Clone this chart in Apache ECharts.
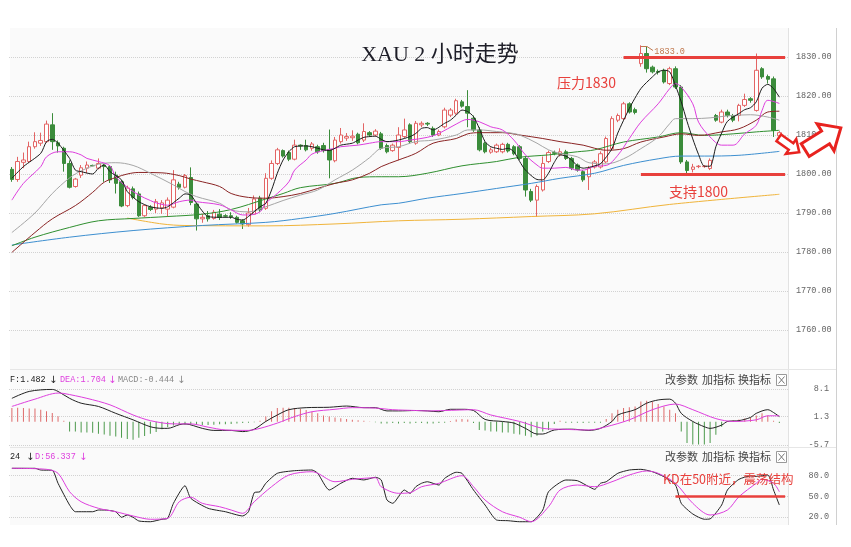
<!DOCTYPE html>
<html><head><meta charset="utf-8">
<script src="https://cdn.jsdelivr.net/npm/echarts@6.0.0/dist/echarts.min.js"></script>
<style>html,body{margin:0;padding:0;background:#fff}#c{width:851px;height:547px}</style>
</head><body><div id="c"></div>
<script>
// ---- data: [open, close, low, high] per 2-hour bar ----
const candles = [
[1801.2,1798.6,1798.0,1801.8],[1798.6,1803.2,1798.0,1804.4],[1803.0,1803.6,1801.5,1805.5],[1803.2,1807.0,1802.8,1808.3],
[1807.0,1808.3,1806.5,1810.7],[1807.9,1808.6,1807.2,1810.6],[1808.3,1812.8,1808.0,1813.7],[1812.6,1808.3,1806.2,1815.6],
[1808.0,1807.2,1805.5,1808.6],[1806.6,1802.7,1800.6,1807.0],[1802.7,1796.6,1796.3,1803.5],[1796.8,1798.7,1796.5,1799.0],
[1799.7,1801.6,1799.0,1802.3],[1801.5,1802.3,1800.2,1803.2],[1802.2,1802.1,1802.0,1802.4],[1801.5,1802.7,1801.2,1804.0],
[1802.3,1801.9,1798.0,1802.6],[1801.9,1798.5,1797.7,1802.3],[1799.7,1797.6,1795.0,1800.6],[1798.0,1791.8,1791.5,1798.5],
[1791.9,1796.4,1791.5,1797.0],[1796.2,1794.0,1793.5,1796.8],[1794.9,1789.3,1789.0,1795.5],[1789.3,1791.9,1789.0,1792.2],
[1791.5,1790.9,1790.5,1792.0],[1791.0,1792.9,1790.0,1793.6],[1791.3,1792.6,1789.8,1793.3],[1791.0,1793.3,1789.0,1794.0],
[1791.5,1798.5,1791.2,1801.0],[1797.4,1796.6,1796.0,1798.0],[1796.6,1799.6,1796.3,1800.0],[1799.1,1792.7,1792.0,1801.7],
[1792.3,1788.5,1785.5,1792.6],[1788.5,1788.9,1787.5,1789.8],[1789.3,1788.5,1787.8,1790.5],[1788.6,1790.2,1788.3,1790.8],
[1789.7,1788.9,1788.2,1791.0],[1789.3,1789.2,1788.8,1789.7],[1789.3,1789.0,1788.5,1790.2],[1788.9,1787.6,1787.3,1789.3],
[1788.0,1787.2,1785.9,1788.4],[1787.0,1790.0,1786.5,1791.3],[1789.7,1793.6,1789.5,1794.5],[1793.8,1790.8,1790.3,1794.4],
[1791.2,1798.9,1790.8,1800.2],[1798.9,1802.7,1798.5,1803.5],[1802.7,1806.2,1802.3,1806.7],[1806.0,1804.6,1804.2,1806.3],
[1805.5,1803.8,1803.3,1806.0],[1803.8,1807.4,1803.5,1808.8],[1807.4,1807.2,1806.2,1807.6],[1807.3,1806.2,1805.8,1808.8],
[1806.6,1807.7,1806.0,1808.2],[1807.0,1805.7,1805.2,1807.5],[1807.3,1806.0,1805.5,1808.0],[1806.3,1803.6,1798.9,1811.4],
[1803.4,1808.7,1803.0,1809.5],[1808.3,1810.0,1807.8,1811.8],[1809.2,1809.6,1808.5,1810.5],[1809.3,1809.7,1808.5,1811.2],
[1810.2,1808.0,1807.6,1810.6],[1808.7,1810.9,1808.2,1813.0],[1810.6,1810.0,1809.5,1811.0],[1810.0,1811.0,1809.6,1811.5],
[1810.3,1806.6,1806.2,1810.8],[1807.3,1805.7,1805.3,1807.8],[1806.0,1807.4,1805.7,1807.8],[1806.8,1810.0,1803.5,1812.0],
[1809.6,1811.3,1809.2,1814.2],[1812.6,1808.3,1807.8,1813.0],[1807.9,1813.0,1807.5,1813.6],[1812.6,1813.0,1812.0,1813.5],
[1813.0,1812.8,1812.3,1813.3],[1811.7,1810.0,1809.5,1812.2],[1810.0,1810.9,1809.7,1811.4],[1812.1,1816.4,1811.7,1817.0],
[1815.1,1816.4,1814.6,1816.9],[1815.6,1818.8,1815.2,1819.3],[1818.5,1817.4,1817.0,1819.0],[1817.3,1815.6,1812.0,1821.5],
[1814.3,1811.3,1810.8,1815.0],[1811.3,1806.2,1805.8,1812.0],[1807.9,1805.7,1805.3,1808.3],[1805.6,1806.2,1805.2,1806.8],
[1805.7,1807.4,1805.4,1807.8],[1805.7,1807.6,1805.3,1808.0],[1807.6,1805.9,1805.5,1808.0],[1807.0,1805.2,1804.8,1807.4],
[1807.0,1804.0,1803.6,1807.4],[1804.0,1795.9,1794.2,1804.5],[1795.5,1793.3,1792.8,1796.2],[1793.3,1796.8,1789.0,1797.3],
[1795.9,1802.7,1795.5,1804.5],[1803.2,1805.5,1802.8,1806.0],[1805.5,1805.3,1804.8,1806.0],[1804.9,1805.7,1804.5,1806.6],
[1805.7,1804.0,1803.6,1806.2],[1804.0,1801.5,1801.0,1804.4],[1802.3,1801.0,1800.6,1802.7],[1800.6,1798.5,1798.0,1801.0],
[1799.3,1801.5,1795.9,1802.0],[1801.8,1803.1,1801.4,1803.6],[1801.8,1805.2,1801.4,1805.8],[1803.1,1809.1,1802.8,1809.6],
[1806.5,1814.2,1806.0,1814.8],[1813.8,1815.0,1813.3,1815.5],[1814.2,1818.0,1813.8,1818.5],[1818.0,1815.9,1815.5,1818.4],
[1816.5,1815.8,1815.3,1817.0],[1828.3,1830.9,1827.5,1833.0],[1830.9,1827.0,1826.0,1832.8],[1827.4,1826.2,1825.8,1827.8],
[1826.3,1826.1,1825.5,1826.8],[1826.6,1823.6,1823.2,1827.0],[1823.2,1827.0,1822.8,1827.5],[1827.0,1822.3,1821.8,1827.6],
[1822.3,1803.1,1802.6,1822.8],[1803.1,1800.9,1799.5,1803.6],[1801.2,1801.8,1800.4,1802.6],[1801.9,1802.0,1801.5,1802.3],
[1801.9,1802.0,1801.6,1802.3],[1801.4,1803.5,1801.0,1804.0],[1815.0,1813.8,1813.4,1815.4],[1813.3,1815.9,1813.0,1816.5],
[1815.9,1815.0,1814.5,1816.5],[1815.0,1813.8,1813.3,1815.4],[1815.0,1817.6,1813.5,1818.0],[1817.6,1819.1,1817.2,1820.6],
[1819.3,1818.9,1818.3,1819.7],[1816.3,1826.6,1816.0,1830.9],[1827.0,1824.9,1824.4,1827.4],[1825.0,1824.3,1823.2,1825.5],
[1824.4,1811.2,1809.5,1825.0],[1809.8,1810.6,1809.0,1811.0]
];
const slotCount = 135;
const categories = Array.from({length: slotCount}, (_, i) => String(i + 1));

// moving averages: [bar index, value]
const ma5 = [[0,1798.9],[2,1801.9],[5,1805.3],[6,1808.3],[7,1808.9],[8,1807.9],[10,1804],[11,1801],[12,1800.6],[14,1800],[15,1801.5],[16,1802.3],[17,1800.6],[19,1798.5],[20,1795.5],[22,1792.9],[24,1791.6],[26,1791.2],[27,1791.6],[29,1793.8],[30,1794.9],[31,1794.6],[32,1792.5],[34,1789.1],[36,1788.9],[38,1788.9],[39,1788.4],[40,1788.2],[41,1789.1],[43,1791.6],[44,1792.5],[45,1795.9],[46,1800.2],[47,1803.6],[48,1805.7],[49,1807],[51,1807.2],[52,1807],[53,1806.6],[54,1806.2],[55,1806],[56,1806.6],[57,1807.4],[59,1807.9],[60,1808.7],[61,1809.4],[62,1809.6],[63,1809.7],[64,1808.9],[65,1808.3],[67,1808.7],[69,1809.6],[70,1810.4],[71,1811.7],[72,1811.9],[73,1811.3],[75,1813],[76,1813.8],[77,1815.1],[78,1816.4],[79,1816],[80,1814.7],[81,1811.7],[82,1808.3],[83,1807],[84,1806.6],[85,1806.3],[86,1806.6],[87,1805.7],[88,1803.2],[89,1801],[91,1798.6],[92,1798.5],[93,1800.2],[94,1803],[95,1804.9],[96,1804.6],[97,1803.6],[98,1802.1],[99,1801.5],[100,1801.7],[101,1802.1],[102,1802.6],[104,1806.5],[105,1810.5],[107,1816.8],[109,1821.9],[111,1824.9],[112,1826.2],[113,1826.6],[114,1826.2],[115,1822.7],[116,1818.5],[117,1813.5],[118,1809],[119,1805],[120,1802],[121,1802],[122,1807],[123,1810.5],[124,1813.5],[126,1815.5],[127,1816.5],[128,1817],[129,1818.5],[130,1822],[131,1823],[132,1821.9],[133,1819.7]];
const ma10 = [[0,1793.3],[2,1797.6],[5,1801.9],[6,1804.4],[8,1805.7],[10,1805.7],[12,1804.9],[13,1804],[15,1803.2],[17,1802.1],[18,1799.3],[20,1796.6],[22,1794.6],[24,1793.2],[25,1792.6],[27,1792],[29,1792.9],[31,1793.3],[32,1792.9],[36,1792.1],[38,1790.8],[40,1789.5],[41,1789.5],[43,1790.3],[44,1792.5],[46,1795],[48,1798],[49,1801],[51,1803.6],[52,1805.1],[54,1806],[56,1806.6],[57,1807],[60,1807.4],[62,1807.9],[64,1808.3],[67,1808.3],[69,1808.7],[72,1809.4],[74,1810.4],[77,1812.8],[79,1814],[81,1813.4],[83,1812.1],[85,1811.3],[87,1808.7],[89,1804.9],[91,1802.3],[92,1801.5],[94,1801.5],[96,1801.7],[98,1801],[99,1801],[100,1801.4],[101,1802],[103,1802.2],[105,1804.8],[107,1809.1],[109,1813.3],[112,1818],[114,1821.9],[115,1823.2],[116,1822.3],[118,1818],[119,1813.3],[121,1809.5],[123,1807.4],[125,1807.4],[127,1810.3],[129,1812.5],[130,1816.3],[131,1818.9],[133,1818.1]];
const ma20 = [[0,1785],[4,1790],[7,1795],[10,1799],[12,1800.8],[15,1802.5],[18,1802.9],[21,1802.2],[24,1800.2],[28,1797.2],[30,1795.5],[32,1794.2],[36,1792.5],[38,1790.8],[41,1790.3],[44,1791.6],[47,1793.2],[50,1794.6],[53,1795.9],[56,1798.5],[59,1801],[62,1804.2],[64,1806.6],[67,1807],[70,1808.3],[73,1808.7],[77,1810],[79,1811.3],[81,1811.3],[84,1810.9],[86,1810.6],[88,1810],[91,1807.9],[93,1806.2],[95,1805.3],[98,1804.4],[100,1802.9],[103,1802.6],[106,1803.9],[109,1806.5],[112,1809.5],[114,1812.9],[115,1814.2],[118,1814.2],[121,1814.4],[124,1814.9],[128,1815.2],[131,1814.6],[133,1813.8]];
const ma30 = [[0,1779.9],[4,1785],[7,1788.5],[11,1791.9],[14,1795.3],[16,1797.9],[18,1799.1],[20,1800],[22,1800.4],[26,1800.3],[29,1799.6],[31,1798.7],[33,1798],[36,1796.8],[38,1795],[41,1794],[44,1793.8],[47,1794.2],[50,1795],[53,1796.3],[56,1797.6],[59,1798.5],[62,1800.2],[64,1801.9],[67,1803.6],[70,1805.3],[73,1807.9],[77,1809.1],[79,1810.3],[81,1810.6],[85,1810.6],[88,1810],[92,1809.1],[95,1808.3],[99,1807.4],[101,1806.6],[103,1806.1],[106,1806.5],[109,1808.2],[113,1809.5],[116,1810.3],[119,1809.9],[123,1810.8],[126,1811.6],[129,1813.8],[131,1815.9],[133,1816.1]];
const ma60 = [[0,1781.6],[4,1783.8],[10,1786.3],[15,1788],[21,1788.6],[27,1789.1],[33,1789.7],[38,1790.9],[44,1793.6],[47,1795],[50,1796.5],[56,1797.6],[60,1799.1],[64,1799.3],[67,1799.3],[72,1800.2],[78,1802.1],[84,1803.2],[88,1804.3],[93,1804.9],[98,1805.7],[101,1806.2],[106,1808.2],[112,1809.5],[116,1810.6],[120,1809.9],[125,1810.3],[129,1810.8],[133,1811.2]];
const ma120 = [[0,1781.8],[10,1783.8],[21,1785.5],[33,1786.8],[44,1787.6],[50,1788.6],[56,1789.9],[64,1792.1],[67,1792.5],[72,1793.8],[78,1795],[84,1796.3],[90,1797.6],[95,1798.9],[101,1800.2],[106,1802.2],[112,1803.9],[116,1804.6],[120,1804.6],[126,1804.8],[133,1805.8]];
const ma250 = [[20,1788.7],[26,1787.2],[30,1786.8],[44,1786.7],[56,1787.2],[67,1788],[78,1788.4],[90,1789.1],[101,1789.8],[114,1792.2],[133,1794.8]];

// MACD panel
const macdHist = [3.4,3.5,3.4,3.3,3.3,3.0,2.6,2.2,1.4,0.3,
-2.4,-2.4,-2.6,-2.6,-2.7,-2.9,-3.1,-3.4,-3.6,-3.9,-4.2,-4.4,-3.9,-3.5,-2.9,-2.5,-1.8,-1.3,
-0.9,-0.8,-0.7,-0.6,-0.7,-0.8,-0.8,-0.7,-0.6,-0.6,-0.5,-0.4,-0.3,-0.2,-0.1,0.3,
1.3,2.6,3.4,3.5,3.5,3.4,3.2,2.9,2.5,2.1,1.6,1.3,1.1,0.9,0.7,0.5,0.4,0.3,
0.1,-0.1,
-0.4,-0.4,-0.3,-0.4,-0.3,-0.4,-0.3,-0.3,-0.4,-0.4,-0.3,-0.2,0.2,
0.6,0.7,0.6,-0.3,
-2.0,-2.1,-2.4,-2.4,-2.6,-2.6,-2.9,-3.1,-3.4,-3.8,-3.4,-2.4,-2.0,
-0.5,0.3,-0.2,-0.2,-0.2,-0.3,-0.2,-0.2,-0.2,
0.7,2.1,3.0,3.4,3.6,3.8,5.0,5.2,5.0,4.4,3.8,3.0,2.1,
-2.4,-5.2,-5.6,-5.6,-5.6,-5.2,-3.2,-1.2,
0.2,0.4,0.6,0.8,1.0,1.6,2.1,1.6,0.3,-0.3];
const dif = [[0,5.8],[3,7.5],[7,8.0],[8,7.5],[10,5.8],[12,4.6],[15,3.8],[18,2.1],[21,0.5],[24,-1.2],[26,-1.6],[27,-1.6],[29,-0.7],[30,-0.5],[33,-1.6],[35,-2.1],[38,-2.1],[40,-2.4],[42,-1.8],[44,0.1],[46,1.7],[48,3.0],[51,3.5],[55,3.6],[58,3.9],[61,3.5],[63,3.5],[65,2.7],[67,2.7],[70,2.8],[72,2.7],[74,2.5],[76,3.1],[78,3.1],[80,2.8],[82,0.6],[85,0.1],[87,-0.3],[89,-1.6],[91,-3.0],[92,-3.0],[94,-2.0],[97,-1.8],[100,-2.1],[102,-1.6],[104,0.1],[105,1.7],[108,3.0],[110,4.6],[112,5.4],[114,5.6],[115,4.6],[116,2.1],[118,0.1],[120,-1.2],[121,-1.6],[123,-0.8],[124,0.1],[126,0.3],[128,1.1],[129,2.1],[131,3.0],[132,2.3],[133,1.3]];
const dea = [[0,3.8],[4,5.6],[8,7.1],[9,7.0],[13,5.8],[17,4.2],[21,1.7],[24,0.3],[28,-0.5],[31,-0.5],[34,-1.3],[37,-2.0],[41,-2.1],[43,-1.6],[46,-0.3],[49,1.3],[52,2.5],[56,3.1],[59,3.5],[63,3.4],[66,3.0],[70,2.8],[72,2.7],[75,2.8],[80,3.0],[83,1.7],[88,0.1],[92,-1.6],[95,-1.8],[100,-2.0],[103,-1.2],[107,0.5],[111,3.0],[115,4.4],[118,3.0],[122,0.8],[125,0.1],[129,0.5],[131,1.5],[133,1.5]];

// KD panel
const kLine = [[0,90.8],[4,90.8],[5,88.3],[7,87.8],[8,68.9],[10,37.2],[11,27.4],[14,27.4],[15,29.9],[16,29.9],[18,27.4],[19,19.3],[20,22.6],[21,19.3],[22,13.9],[24,12.8],[26,16.4],[27,17.8],[28,39.7],[30,65.4],[31,47],[34,32.4],[37,27.4],[40,21.2],[41,27.4],[42,55.2],[43,56.6],[44,68.9],[46,83.5],[49,87.3],[52,88.3],[53,83.5],[55,59.1],[57,68.9],[59,76.2],[61,73.8],[63,77.7],[64,73.8],[65,44.5],[66,39.7],[68,59.1],[69,54.3],[70,63.9],[71,69],[72,71.2],[74,66.4],[75,76.2],[77,85],[78,83.5],[80,59.1],[82,37.2],[84,15.3],[86,14.3],[88,12.8],[90,12.8],[92,29.9],[93,56.6],[96,73.7],[98,72.7],[100,63.9],[101,60.1],[102,68.9],[103,71.2],[105,83.5],[107,88.3],[109,89.3],[111,85.8],[113,78.5],[115,66.4],[116,39.7],[118,24.1],[120,16.4],[121,17],[123,37.2],[124,59.1],[126,74.7],[128,79.6],[129,79],[131,81],[132,59.1],[133,37.2]];
const dLine = [[0,90.8],[6,89.3],[8,83.5],[10,56.6],[12,42],[15,32.4],[18,27.4],[21,21.2],[24,16.4],[27,17.8],[29,42],[31,48.5],[33,39.7],[36,34.7],[38,29.9],[40,25.1],[42,42],[45,63.9],[48,81],[52,85.8],[53,83.5],[56,71.2],[59,74.7],[63,77],[64,63.9],[67,54.3],[69,55.2],[71,63.9],[74,68.9],[78,80],[80,63.9],[82,44.5],[85,27.4],[88,19.3],[90,12.8],[93,34.7],[95,59.1],[98,66.4],[101,63.9],[104,71.2],[107,81],[110,86.9],[112,83.5],[115,68.9],[118,39.7],[121,22.6],[124,29.9],[126,49.3],[129,69],[130,74.7],[132,68.9],[133,56.6]];

// tick labels
const priceTicks = [1760,1770,1780,1790,1800,1810,1820,1830];
const macdTicks = [-5.7,1.3,8.1];
const kdTicks = [20,50,80];
// levels
const resistance = 1830, support = 1800, kdLevel = 50, peakValue = 1833.0;
const resistanceFrom = 106, supportFrom = 109, kdFrom = 115, levelTo = 134, peakIndex = 109;

const RED = '#e8403c', UP = '#e36464', DOWN = '#3b8c3b', MAG = '#de3ede';
const monoFont = '"Liberation Mono","DejaVu Sans Mono",monospace';
const cjkFont = '"Noto Sans CJK SC","Noto Sans",sans-serif';

function arrowPoints(cx, cy, L, w, h, hl, deg) {
  const a = deg * Math.PI / 180, ca = Math.cos(a), sa = Math.sin(a);
  const p = [[-L/2,-w/2],[L/2-hl,-w/2],[L/2-hl,-h/2],[L/2,0],[L/2-hl,h/2],[L/2-hl,w/2],[-L/2,w/2]];
  return p.map(([x,y]) => [cx + x*ca - y*sa, cy + x*sa + y*ca]);
}

const chart = echarts.init(document.getElementById('c'), null, {renderer: 'canvas'});
const gridBase = {left: 9, width: 779};
const xAxisBase = {type: 'category', data: categories, boundaryGap: true, show: false};
const lineS = (data, color, xi, extra) => Object.assign({
  type: 'line', data, xAxisIndex: xi, yAxisIndex: xi, showSymbol: false, symbol: 'none',
  smooth: 0.35, silent: true, z: 3, lineStyle: {color, width: 1}
}, extra || {});

function txt(text, x, y, fill, font, align) {
  return {type: 'text', x, y, silent: true, z: 50,
    style: {text, fill, font, align: align || 'left', verticalAlign: 'middle', textAlign: align || 'left', textVerticalAlign: 'middle'}};
}
function closeBox(y) {
  return [
    {type: 'rect', shape: {x: 776.5, y: y - 5.5, width: 10, height: 11}, style: {fill: '#fff', stroke: '#999', lineWidth: 1}, silent: true, z: 50},
    {type: 'line', shape: {x1: 778.5, y1: y - 3.5, x2: 784.5, y2: y + 3.5}, style: {stroke: '#777', lineWidth: 1}, silent: true, z: 51},
    {type: 'line', shape: {x1: 784.5, y1: y - 3.5, x2: 778.5, y2: y + 3.5}, style: {stroke: '#777', lineWidth: 1}, silent: true, z: 51}
  ];
}
const ctrlFont = '11px ' + cjkFont;
const hdrFont = '8.5px ' + monoFont;

const graphics = [
  {type: 'rect', shape: {x: 10, y: 28, width: 778, height: 497}, style: {fill: '#fafafa'}, silent: true, z: -100},
  {type: 'line', shape: {x1: 788.5, y1: 28, x2: 788.5, y2: 525}, style: {stroke: '#e2e2e2', lineWidth: 1}, silent: true, z: -50},
  {type: 'line', shape: {x1: 836.5, y1: 28, x2: 836.5, y2: 525}, style: {stroke: '#d0d0d0', lineWidth: 1}, silent: true, z: -50},
  {type: 'line', shape: {x1: 10, y1: 369.5, x2: 836, y2: 369.5}, style: {stroke: '#e6e6e6', lineWidth: 1}, silent: true, z: -50},
  {type: 'line', shape: {x1: 10, y1: 447.5, x2: 836, y2: 447.5}, style: {stroke: '#e6e6e6', lineWidth: 1}, silent: true, z: -50},
  txt('XAU 2 小时走势', 440, 55, '#1e1e28', '22px "Liberation Serif","Noto Sans CJK SC",serif', 'center'),
  txt('压力1830', 557, 83, RED, '14px ' + cjkFont),
  txt('支持1800', 669, 192, RED, '14px ' + cjkFont),
  txt('KD在50附近，震荡结构', 663, 479, RED, '12.5px ' + cjkFont),
  // MACD header
  txt('F:1.482', 10, 380, '#222', hdrFont),
  txt('↓', 49, 380, '#222', '10px "DejaVu Sans"'),
  txt('DEA:1.704', 60, 380, MAG, hdrFont),
  txt('↓', 108, 380, MAG, '10px "DejaVu Sans"'),
  txt('MACD:-0.444', 118, 380, '#888', hdrFont),
  txt('↓', 177, 380, '#888', '10px "DejaVu Sans"'),
  // KD header
  txt('24', 10, 457, '#222', hdrFont),
  txt('↓', 26, 457, '#222', '10px "DejaVu Sans"'),
  txt('D:56.337', 35, 457, MAG, hdrFont),
  txt('↓', 79, 457, MAG, '10px "DejaVu Sans"'),
  // controls
  txt('改参数', 665, 380, '#444', ctrlFont), txt('加指标', 702, 380, '#444', ctrlFont), txt('换指标', 738, 380, '#444', ctrlFont),
  txt('改参数', 665, 457, '#444', ctrlFont), txt('加指标', 702, 457, '#444', ctrlFont), txt('换指标', 738, 457, '#444', ctrlFont),
  ...closeBox(380), ...closeBox(457),
  // peak connector
  {type: 'polyline', shape: {points: [[641, 46.5], [647, 46.5], [653, 50.5]]}, style: {stroke: '#c0784e', lineWidth: 1, fill: null}, silent: true, z: 40},
  // arrows
  {type: 'polygon', shape: {points: arrowPoints(789, 145, 25, 8, 18, 10, 35)}, style: {fill: '#fff', stroke: '#e8231f', lineWidth: 2.5}, silent: true, z: 60},
  {type: 'polygon', shape: {points: arrowPoints(823, 139, 42, 15, 32, 18, -32)}, style: {fill: '#fff', stroke: '#e8231f', lineWidth: 3}, silent: true, z: 60}
];

const option = {
  animation: false,
  backgroundColor: '#ffffff',
  grid: [
    Object.assign({top: 28, height: 341}, gridBase),
    Object.assign({top: 389, height: 56}, gridBase),
    Object.assign({top: 462, height: 68.5}, gridBase)
  ],
  xAxis: [Object.assign({gridIndex: 0}, xAxisBase), Object.assign({gridIndex: 1}, xAxisBase), Object.assign({gridIndex: 2}, xAxisBase)],
  yAxis: [
    {gridIndex: 0, type: 'value', position: 'right', min: 1750, max: 1837.44, scale: true,
      axisLine: {show: false}, axisTick: {show: false, customValues: priceTicks},
      axisLabel: {customValues: priceTicks, formatter: v => Number(v).toFixed(2), color: '#666', fontSize: 8.5, fontFamily: 'Liberation Mono', margin: 8, align: 'left'},
      splitLine: {show: true, lineStyle: {type: 'dotted', color: '#d2d2d2', width: 1}}},
    {gridIndex: 1, type: 'value', position: 'right', min: -5.7, max: 8.1,
      axisLine: {show: false}, axisTick: {show: false, customValues: macdTicks},
      axisLabel: {customValues: macdTicks, formatter: v => Number(v).toFixed(1), color: '#666', fontSize: 8.5, fontFamily: 'Liberation Mono', margin: 41, align: 'right'},
      splitLine: {show: true, lineStyle: {type: 'dotted', color: '#d2d2d2', width: 1}}},
    {gridIndex: 2, type: 'value', position: 'right', min: 0, max: 100,
      axisLine: {show: false}, axisTick: {show: false, customValues: kdTicks},
      axisLabel: {customValues: kdTicks, formatter: v => Number(v).toFixed(1), color: '#666', fontSize: 8.5, fontFamily: 'Liberation Mono', margin: 41, align: 'right'},
      splitLine: {show: true, lineStyle: {type: 'dotted', color: '#d2d2d2', width: 1}}}
  ],
  series: [
    {type: 'candlestick', xAxisIndex: 0, yAxisIndex: 0, data: candles, barWidth: 4, z: 2, silent: true,
      itemStyle: {color: '#ffffff', color0: DOWN, borderColor: UP, borderColor0: DOWN, borderWidth: 1},
      markLine: {silent: true, symbol: 'none', label: {show: false}, lineStyle: {color: RED, width: 3, type: 'solid'},
        data: [[{coord: [resistanceFrom, resistance]}, {coord: [levelTo, resistance]}],
               [{coord: [supportFrom, support]}, {coord: [levelTo, support]}]]},
      markPoint: {silent: true, symbol: 'circle', symbolSize: 1, itemStyle: {color: 'rgba(0,0,0,0)'},
        label: {show: true, position: 'right', distance: 0, offset: [13, 6], formatter: peakValue.toFixed(1), color: '#c0784e', fontSize: 8.5, fontFamily: 'Liberation Mono'},
        data: [{coord: [peakIndex, peakValue], value: peakValue}]}
    },
    lineS(ma250, '#f0b43a', 0),
    lineS(ma120, '#3d8fd0', 0),
    lineS(ma60, '#2f8f2f', 0),
    lineS(ma30, '#8a2424', 0),
    lineS(ma20, '#a6a6a6', 0),
    lineS(ma10, MAG, 0),
    lineS(ma5, '#1c1c1c', 0, {smooth: 0.25}),
    {type: 'bar', xAxisIndex: 1, yAxisIndex: 1, data: macdHist, barWidth: 1, silent: true,
      itemStyle: {color: p => p.value >= 0 ? '#de6a6a' : '#4c9a4c'}},
    lineS(dif, '#222', 1, {smooth: 0.3}),
    lineS(dea, MAG, 1, {smooth: 0.3}),
    lineS(kLine, '#222', 2, {smooth: 0.2,
      markLine: {silent: true, symbol: 'none', label: {show: false}, lineStyle: {color: RED, width: 2.5, type: 'solid'},
        data: [[{coord: [kdFrom, kdLevel]}, {coord: [levelTo, kdLevel]}]]}}),
    lineS(dLine, MAG, 2, {smooth: 0.3})
  ],
  graphic: graphics
};
chart.setOption(option);
</script>
</body></html>
